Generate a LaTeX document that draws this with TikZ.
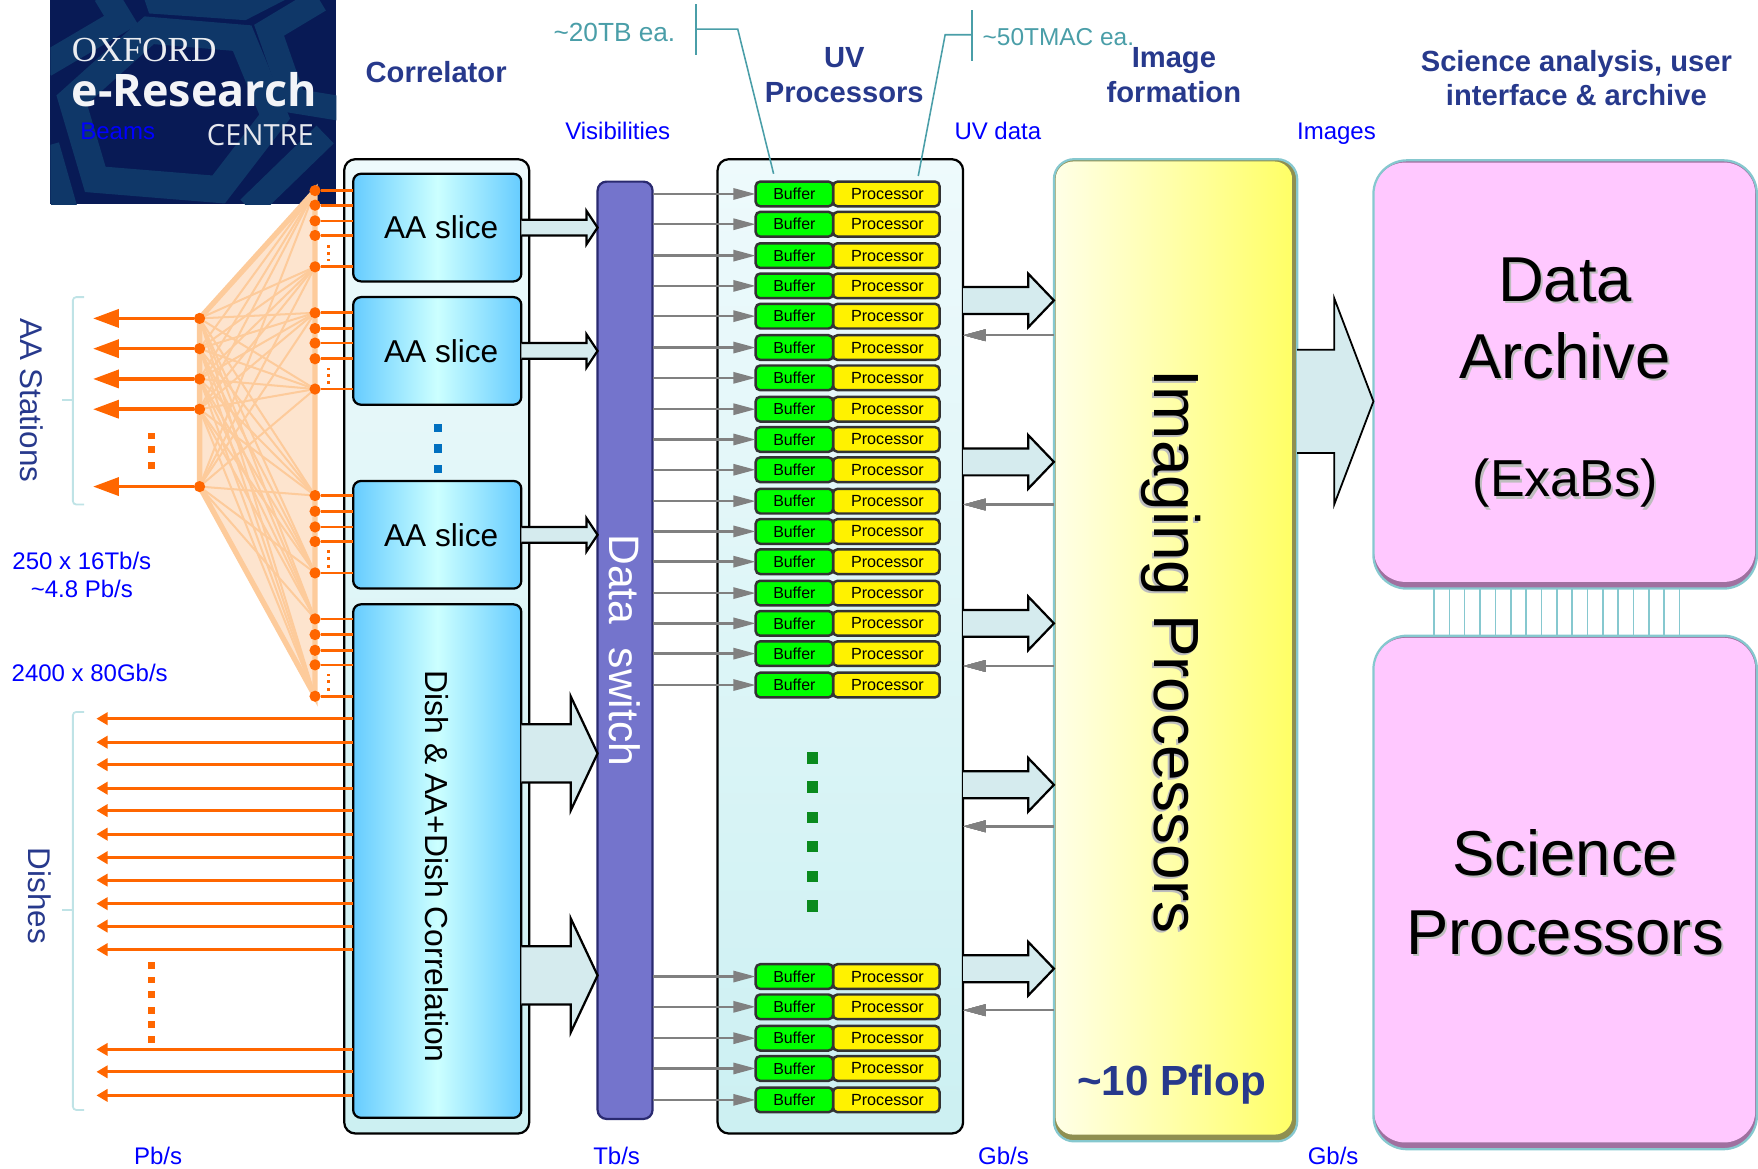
\documentclass[tikz,border=0pt]{standalone}
\usepackage{fontspec}
\setmainfont{Liberation Sans}
\newfontfamily\logoserif{Liberation Serif}
\newfontfamily\logosans{Open Sans}
\usetikzlibrary{arrows.meta,calc}
\definecolor{titleblue}{HTML}{27398C}
\definecolor{rateblue}{HTML}{0000FF}
\definecolor{callteal}{HTML}{4A9EA8}
\definecolor{bracecol}{HTML}{BFE3E6}
\definecolor{edgeteal}{HTML}{86C8CF}
\definecolor{orangeln}{HTML}{FF6600}
\definecolor{fanfill}{HTML}{FDE4CE}
\definecolor{fanline}{HTML}{FDCB9B}
\definecolor{sliceedge}{HTML}{66CCFF}
\definecolor{slicemid}{HTML}{CCFFFF}
\definecolor{blockfill}{HTML}{D5EBEE}
\definecolor{logonavy}{HTML}{081A55}
\definecolor{logoband}{HTML}{0F3768}
\definecolor{shadowgrey}{HTML}{BDBDBD}
\definecolor{corrtop}{HTML}{EEFAFC}
\definecolor{corrbot}{HTML}{CCF0F2}
\definecolor{swfill}{HTML}{7474CC}
\definecolor{swedge}{HTML}{2A2A70}
\definecolor{dotblue}{HTML}{0070C0}
\definecolor{dotgreen}{HTML}{0A8A1E}
\definecolor{pinkfill}{HTML}{FFC8FF}
\definecolor{pinkdark}{HTML}{A070A0}
\definecolor{imgdark}{HTML}{8F8F50}
\definecolor{imgleft}{HTML}{FFFFE6}
\definecolor{imgmid}{HTML}{FFFFA8}
\definecolor{imgright}{HTML}{FFFF66}
\newcommand{\fsz}[1]{\fontsize{#1}{#1}\selectfont}
\newcommand{\shadowtxt}[1]{\rlap{\kern.9pt\raisebox{-.9pt}{\textcolor{shadowgrey}{#1}}}#1}
% from, to, head length, half shaft, half head
\newcommand{\blockarrow}[6][1pt]{%
  \path (#2) coordinate (baa) (#3) coordinate (bab);
  \fill[blockfill] ($(baa)+(0,-#5)$) -- ($(bab)+(-#4,-#5)$) -- ($(bab)+(-#4,-#6)$) -- (bab)
    -- ($(bab)+(-#4,#6)$) -- ($(bab)+(-#4,#5)$) -- ($(baa)+(0,#5)$) -- cycle;
  \draw[line width=#1,line join=miter] ($(baa)+(0,-#5)$) -- ($(bab)+(-#4,-#5)$) -- ($(bab)+(-#4,-#6)$) -- (bab)
    -- ($(bab)+(-#4,#6)$) -- ($(bab)+(-#4,#5)$) -- ($(baa)+(0,#5)$);
}
\tikzset{
  txt/.style={inner sep=0pt,outer sep=0pt,anchor=mid,align=center},
  rate/.style={txt,text=rateblue,font=\fsz{10.7}},
  head/.style={txt,text=titleblue,font=\bfseries\fsz{13}},
  call/.style={txt,text=callteal,font=\fsz{11.7}},
  outerbox/.style={draw=black,line width=1pt,rounded corners=5pt,inner sep=0pt,outer sep=0pt,
    top color=corrtop,bottom color=corrbot},
  slicebox/.style={draw=black,line width=1pt,rounded corners=3.5pt,inner sep=0pt,outer sep=0pt,
    left color=sliceedge,right color=sliceedge,middle color=slicemid,font=\fsz{14.1}},
  bufbox/.style={fill=green,draw=black!80,line width=1.1pt,rounded corners=2pt,inner sep=0pt,outer sep=0pt,
    minimum width=34.5pt,minimum height=11pt,font=\fsz{7.1}},
  procbox/.style={fill=yellow,draw=black!80,line width=1.1pt,rounded corners=2pt,inner sep=0pt,outer sep=0pt,
    minimum width=47.5pt,minimum height=11pt,font=\fsz{7.2}},
  odot/.style={circle,fill=orangeln,inner sep=0pt,minimum size=5pt},
  bigdot/.style={fill=#1,inner sep=0pt,minimum size=3.6pt},
  tinydot/.style={fill=orangeln,inner sep=0pt,minimum size=1.2pt},
  stub/.style={draw=orangeln,line width=1.2pt},
  dishln/.style={draw=orangeln,line width=1.3pt,-{Triangle[length=5pt,width=5.5pt]}},
  stationln/.style={draw=orangeln,line width=1.6pt,-{Triangle[length=11.5pt,width=8pt]}},
  greyln/.style={draw=black!50,line width=1.1pt,-{Triangle[length=10pt,width=5pt]}},
  callln/.style={draw=callteal,line width=.7pt},
  bracket/.style={draw=bracecol,line width=.8pt,rounded corners=1.5pt},
  sidefill/.style={inner sep=0pt,outer sep=0pt,rounded corners=#1},
  sideedge/.style={draw=edgeteal,line width=1pt,inner sep=0pt,outer sep=0pt,rounded corners=#1},
}
\begin{document}
\begin{tikzpicture}[x=.5pt,y=-.5pt]
\useasboundingbox (0,0) rectangle (1568,1041.8);
% logo
\node[fill=logonavy,inner sep=0pt,outer sep=0pt,minimum width=127.5pt,minimum height=91pt] (logo) at (172.5,91) {};
\begin{scope}
\clip (logo.north west) rectangle (logo.south east);
\draw[logoband,line width=12pt,line join=miter] (133,27) -- (216,34) -- (245,104) -- (195,169) -- (85,160) -- (64,89) -- cycle;
\fill[logoband] (129,0) -- (133,12) -- (219,18) -- (254,0) -- cycle;
\draw[logoband,line width=11pt] (94,-5) -- (108,18) -- (40,58);
\draw[logoband,line width=11pt] (285,0) -- (240,27) -- (262,90) -- (305,97);
\draw[logoband,line width=11pt] (290,120) -- (222,186);
\draw[logoband,line width=11pt] (42,130) -- (58,186);
\end{scope}
\node[txt,text=white!92!logonavy,font=\logoserif\fsz{15.7},anchor=base west] (lgoxford) at (64,55) {OXFORD};
\node[txt,text=white!95!logonavy,font=\logosans\bfseries\fsz{20},anchor=base west] (lgresearch) at (64,95) {e-Research};
\node[txt,text=white!90!logonavy,font=\logosans\fsz{13},anchor=base east] (lgcentre) at (280,130) {CENTRE};
\node[rate] (beams) at (105,119) {Beams};
% headings
\node[head] (hcorr) at (389,68) {Correlator};
\node[head] (huv) at (753,86) {UV\\[2.4pt]Processors};
\node[head] (himg) at (1047,86) {Image\\[2.4pt]formation};
\node[head] (hsci) at (1406,89) {Science analysis, user\\[2.4pt]interface \& archive};
\node[rate] (lvis) at (551,119) {Visibilities};
\node[rate] (luv) at (890,119) {UV data};
\node[rate] (limg) at (1192,119) {Images};
\node[rate] (lpb) at (141,1033) {Pb/s};
\node[rate] (ltb) at (550,1033) {Tb/s};
\node[rate] (lgb) at (895,1033) {Gb/s};
\node[rate] (lgc) at (1189,1033) {Gb/s};
\node[rate] (lrta) at (73,503) {250 x 16Tb/s};
\node[rate] (lrtb) at (73,528) {\textasciitilde4.8 Pb/s};
\node[rate] (lrtc) at (80,603) {2400 x 80Gb/s};
\node[txt,text=titleblue,font=\fsz{14},rotate=-90] (lst) at (24,357) {AA Stations};
\node[txt,text=titleblue,font=\fsz{14},rotate=-90] (ldish) at (31,799) {Dishes};
% correlator
\node[outerbox,minimum width=82.5pt,minimum height=434.5pt] (corr) at (389.5,576.5) {};
\node[slicebox,minimum width=75pt,minimum height=48pt] (s1) at (390,203) {\hspace{3.5pt}\raisebox{-.8pt}{AA slice}};
\node[slicebox,minimum width=75pt,minimum height=48pt] (s2) at (390,313) {\hspace{3.5pt}\raisebox{-.4pt}{AA slice}};
\node[slicebox,minimum width=75pt,minimum height=48pt] (s3) at (390,477) {\hspace{3.5pt}\raisebox{-.4pt}{AA slice}};
\node[slicebox,minimum width=75pt,minimum height=229pt] (s4) at (390,768) {};
\node[txt,font=\fsz{14.2},rotate=-90] (s4t) at (384.5,773) {Dish \& AA+Dish Correlation};
\foreach \i/\y in {1/382,2/400,3/418}
  \node[bigdot=dotblue] (bd\i) at (391,\y) {};
% fan
\foreach \i/\y in {1/170,2/183,3/197,4/210,5/238,6/279,7/293,8/306,9/320,10/347,11/442,12/456,13/470,14/483,15/511,16/552,17/566,18/580,19/593,20/621}
  \coordinate (r\i) at (281,\y);
\foreach \i/\y in {1/284,2/311,3/338,4/365,5/434}
  \coordinate (l\i) at (178,\y);
\fill[fanfill] (l1) -- (r1) -- (r20) -- (l5) -- cycle;
\foreach \a in {1,...,5}
  \foreach \b in {1,5,6,10,11,15,16,20}
    \draw[fanline,line width=.9pt] (l\a) -- (r\b);
\draw[fanline,line width=2.4pt] (l1) -- (r1) -- (r20) -- (l5) -- cycle;
\foreach \i in {1,...,20}{
  \node[odot] (rd\i) at (r\i) {};
  \draw[stub] (rd\i) -- (r\i -| s1.west);
}
\foreach \i/\y in {1/284,2/311,3/338,4/365,5/434}{
  \node[odot] (ld\i) at (l\i) {};
  \coordinate (lt\i) at (83,\y);
  \draw[stationln] (ld\i) -- (lt\i);
}
\foreach \i/\y in {1/220,2/226,3/232,4/329,5/335,6/341,7/492,8/498,9/505,10/602,11/608,12/615}
  \node[tinydot] (td\i) at (293,\y) {};
\foreach \i/\y in {1/389,2/401,3/415}
  \node[bigdot=orangeln,minimum size=3pt] (sd\i) at (135,\y) {};
% dishes
\foreach \i/\y in {1/641,2/662,3/682,4/703,5/723,6/744,7/765,8/785,9/806,10/826,11/847,12/936,13/956,14/977}{
  \coordinate (dt\i) at (86,\y);
  \draw[dishln] (s4.west |- dt\i) -- (dt\i);
}
\foreach \i/\y in {1/861,2/874,3/887,4/901,5/914,6/927}
  \node[bigdot=orangeln,minimum size=3pt] (dd\i) at (135,\y) {};
% brackets
\draw[bracket] (75,265) -- (65,265) -- (65,450) -- (75,450);
\coordinate (bsta) at (65,357);
\draw[bracket] (bsta) -- ++(-10,0);
\draw[bracket] (75,635) -- (65,635) -- (65,990) -- (75,990);
\coordinate (bstb) at (65,812);
\draw[bracket] (bstb) -- ++(-10,0);
% switch
\node[fill=swfill,draw=swedge,line width=1pt,rounded corners=4pt,inner sep=0pt,outer sep=0pt,
  minimum width=24.5pt,minimum height=418pt] (sw) at (557.5,580) {};
\node[txt,text=white,font=\fsz{19},rotate=-90] (swt) at (549,580) {Data\ \ switch};
\blockarrow{s1.east}{sw.west |- s1.east}{10}{7}{15}
\blockarrow{s2.east}{sw.west |- s2.east}{10}{7}{15}
\blockarrow{s3.east}{sw.west |- s3.east}{10}{7}{15}
\blockarrow{s4.east |- 0,672}{sw.west |- 0,672}{24}{26}{51}
\blockarrow{s4.east |- 0,870}{sw.west |- 0,870}{24}{26}{51}
% uv processors
\node[outerbox,minimum width=109.5pt,minimum height=434.5pt] (uv) at (749.5,576.5) {};
\foreach \i/\y in {1/173,2/200,3/228,4/255,5/282,6/310,7/337,8/365,9/392,10/419,11/447,12/474,13/501,14/529,15/556,16/583,17/611,18/871,19/898,20/926,21/953,22/981}{
  \node[procbox] (p\i) at (790.5,\y) {\hspace{1pt}\raisebox{-.3pt}{Processor}};
  \node[bufbox] (b\i) at (708.5,\y) {\raisebox{-.3pt}{Buffer}};
  \draw[greyln] (sw.east |- b\i.west) -- (b\i.west);
}
\foreach \i/\y in {1/676,2/702,3/729,4/755,5/782,6/808}
  \node[bigdot=dotgreen,minimum size=5pt] (gd\i) at (725,\y) {};
% call-outs
\coordinate (cta) at (621,4); \coordinate (ctb) at (621,49);
\coordinate (ctc) at (621,26); \coordinate (ctd) at (658,26); \coordinate (cte) at (690,155);
\draw[callln] (cta) -- (ctb);
\draw[callln] (ctc) -- (ctd) -- (cte);
\coordinate (cua) at (867,9); \coordinate (cub) at (867,54);
\coordinate (cuc) at (867,31); \coordinate (cud) at (843,31); \coordinate (cue) at (819,157);
\draw[callln] (cua) -- (cub);
\draw[callln] (cuc) -- (cud) -- (cue);
\node[call] (c20) at (548,32) {\textasciitilde20TB ea.};
\node[call,font=\fsz{10.9}] (c50) at (944,35) {\textasciitilde50TMAC ea.};
% imaging
\node[sidefill=9pt,fill=imgdark,minimum width=108.5pt,minimum height=438pt] (im) at (1048.5,580) {};
\node[sidefill=8pt,left color=imgleft,right color=imgright,middle color=imgmid,
  minimum width=105.5pt,minimum height=434pt] (imf) at (1047,578) {};
\node[sideedge=9pt,minimum width=108.5pt,minimum height=438pt] (ime) at (1048.5,580) {};
\node[txt,font=\fsz{28.5},rotate=-90] (imt) at (1035,581) {\shadowtxt{Imaging Processors}};
\node[txt,text=titleblue,font=\bfseries\fsz{18.8}] (imp) at (1045,972) {\textasciitilde10 Pflop};
\foreach \y in {268,412,556,700,864}
  \blockarrow{uv.east |- 0,\y}{im.west |- 0,\y}{23}{12}{24}
\foreach \y in {299,450,594,737,901}
  \draw[greyln] (im.west |- 0,\y) -- (uv.east |- 0,\y);
% data and science
\node[sidefill=15pt,fill=pinkdark,minimum width=171pt,minimum height=191pt] (da) at (1396,334) {};
\node[sidefill=14pt,fill=pinkfill,minimum width=170pt,minimum height=187pt] (daf) at (1395.5,332) {};
\node[sideedge=15pt,minimum width=171pt,minimum height=191pt] (dae) at (1396,334) {};
\node[sidefill=15pt,fill=pinkdark,minimum width=171pt,minimum height=229pt] (sc) at (1396,796) {};
\node[sidefill=14pt,fill=pinkfill,minimum width=170pt,minimum height=225pt] (scf) at (1395.5,794) {};
\node[sideedge=15pt,minimum width=171pt,minimum height=229pt] (sce) at (1396,796) {};
\foreach \i in {0,...,16}
  \draw[edgeteal,line width=.7pt] ({1279+\i*13.69},525) -- ({1279+\i*13.69},567);
\blockarrow[.8pt]{im.east |- 0,358}{da.west |- 0,358}{35}{46}{92}
\node[txt,font=\fsz{28.3}] (dat) at (1396,264) {\shadowtxt{Data}};
\node[txt,font=\fsz{28.3}] (dar) at (1396,332) {\shadowtxt{Archive}};
\node[txt,font=\fsz{23.2}] (dex) at (1396,438) {\shadowtxt{(ExaBs)}};
\node[txt,font=\fsz{28.3}] (sct) at (1396,776) {\shadowtxt{Science}};
\node[txt,font=\fsz{28.3}] (scp) at (1396,846) {\shadowtxt{Processors}};
\end{tikzpicture}
\end{document}
